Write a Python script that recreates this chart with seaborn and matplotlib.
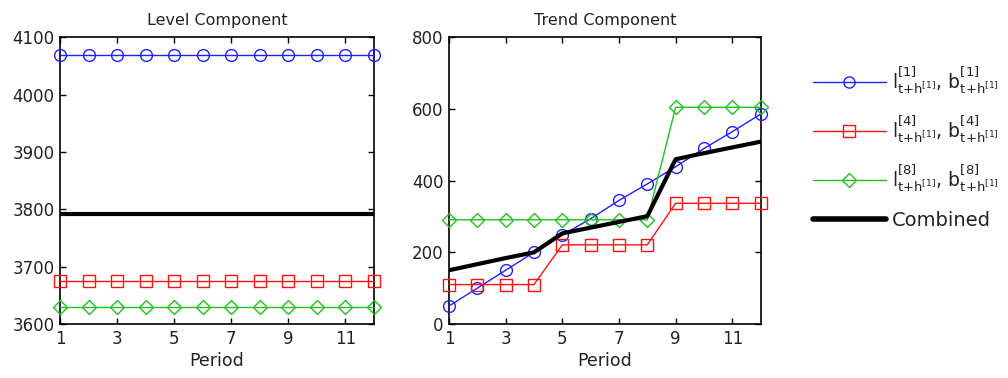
import matplotlib
matplotlib.use("Agg")
import matplotlib.pyplot as plt
import seaborn as sns
from matplotlib.lines import Line2D

sns.set_theme(style="white")
plt.rcParams['font.family'] = ['DejaVu Sans']
plt.rcParams['mathtext.fontset'] = 'dejavusans'

periods = list(range(1, 13))

level_1 = [4070] * 12
level_4 = [3675] * 12
level_8 = [3630] * 12
level_comb = [3792] * 12

trend_1 = [50, 100, 150, 200, 248, 294, 345, 391, 439, 490, 537, 586]
trend_4 = [110, 110, 110, 110, 221, 221, 221, 221, 337, 337, 337, 337]
trend_8 = [291, 291, 291, 291, 291, 291, 291, 291, 605, 605, 605, 605]
trend_comb = [150, 167, 184, 200, 253, 269, 285, 301, 460, 477, 493, 509]

labels = [
    r'$\mathrm{l}^{[1]}_{\mathrm{t{+}h}^{[1]}}$, $\mathrm{b}^{[1]}_{\mathrm{t{+}h}^{[1]}}$',
    r'$\mathrm{l}^{[4]}_{\mathrm{t{+}h}^{[1]}}$, $\mathrm{b}^{[4]}_{\mathrm{t{+}h}^{[1]}}$',
    r'$\mathrm{l}^{[8]}_{\mathrm{t{+}h}^{[1]}}$, $\mathrm{b}^{[8]}_{\mathrm{t{+}h}^{[1]}}$',
    'Combined',
]

styles = [
    dict(color='#2020ff', marker='o'),
    dict(color='#ff1010', marker='s'),
    dict(color='#20c020', marker='D'),
]

fig = plt.figure(figsize=(10.08, 3.78), dpi=100)
ax1 = fig.add_axes([0.0595, 0.1429, 0.3115, 0.758])
ax2 = fig.add_axes([0.4454, 0.1429, 0.3092, 0.758])

def draw(ax, series, comb, ylim, yticks, title):
    for s, st in zip(series, styles):
        msize = 8.5 if st['marker'] != 'D' else 7.5
        sns.lineplot(x=periods, y=s, ax=ax, color=st['color'], marker=st['marker'],
                     markersize=msize, markerfacecolor='none', markeredgecolor=st['color'],
                     markeredgewidth=1.0, linewidth=1.0, clip_on=False, zorder=3)
    sns.lineplot(x=periods, y=comb, ax=ax, color='black', linewidth=3, zorder=4)
    ax.set_xlim(1, 12)
    ax.set_ylim(*ylim)
    ax.set_xticks([1, 3, 5, 7, 9, 11])
    ax.set_yticks(yticks)
    ax.set_xlabel('Period', fontsize=12.5, labelpad=3, color='#222222')
    ax.set_title(title, fontsize=11.5, pad=9, color='#222222')
    ax.tick_params(direction='in', length=4, width=1, top=True, right=True,
                   bottom=True, left=True, labelsize=12, color='black',
                   labelcolor='#222222', pad=4)
    for sp in ax.spines.values():
        sp.set_color('black')
        sp.set_linewidth(1.2)
        sp.set_visible(True)

draw(ax1, [level_1, level_4, level_8], level_comb, (3600, 4100),
     [3600, 3700, 3800, 3900, 4000, 4100], 'Level Component')
draw(ax2, [trend_1, trend_4, trend_8], trend_comb, (0, 800),
     [0, 200, 400, 600, 800], 'Trend Component')

hs = [Line2D([], [], color=st['color'], marker=st['marker'], markersize=8 if st['marker'] != 'D' else 7,
             markerfacecolor='none', markeredgewidth=1.0, linewidth=1.0) for st in styles]
hs.append(Line2D([], [], color='black', linewidth=4))
leg = fig.legend(hs, labels, loc='upper left', bbox_to_anchor=(0.789, 0.875), frameon=False,
                 fontsize=14, handlelength=3.75, handletextpad=0.3, labelspacing=0.88)
for i, t in enumerate(leg.get_texts()):
    t.set_color('#222222')
    if i < 3:
        t.set_fontsize(13.5)

fig.savefig('out.png', dpi=100)
